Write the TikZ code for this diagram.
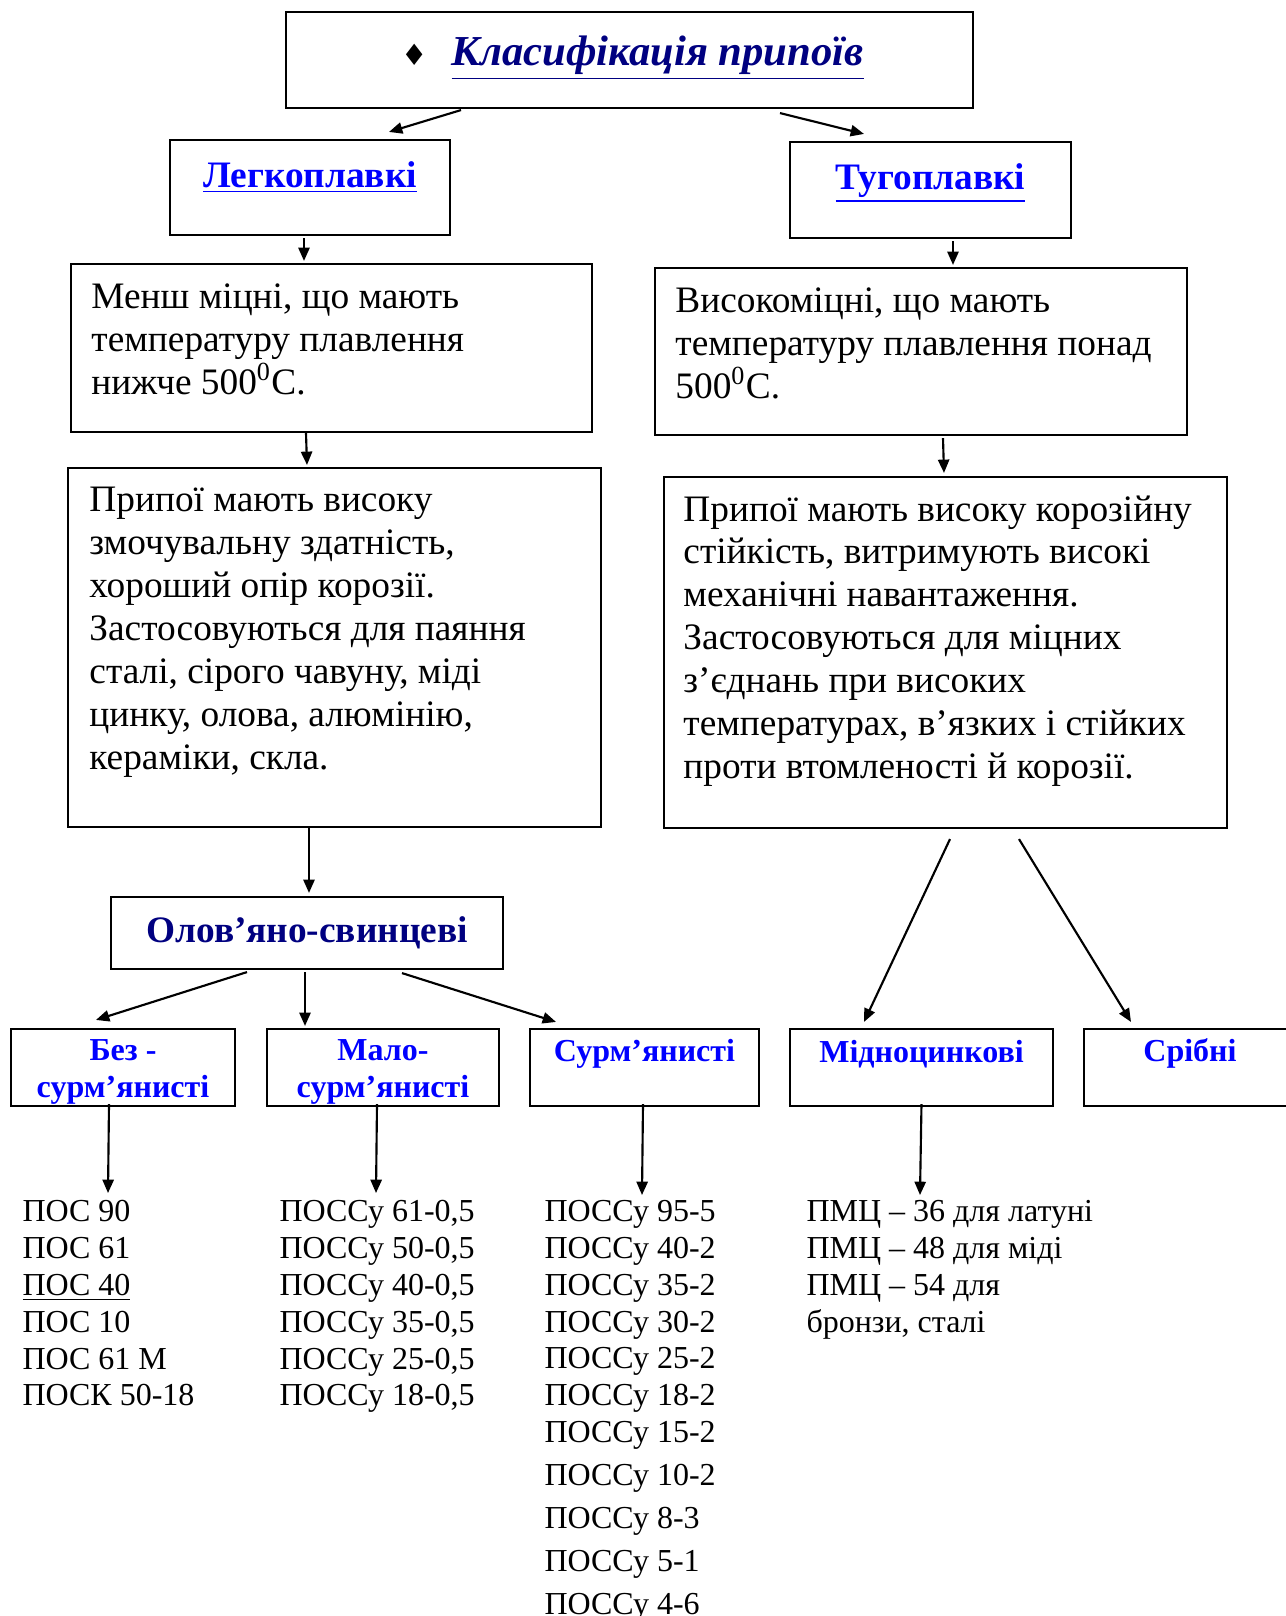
\documentclass[tikz,border=0pt]{standalone}
\usepackage{fontspec}
\setmainfont{Liberation Serif}
\newfontfamily\symbfont{DejaVu Sans}
\usetikzlibrary{arrows.meta,
                calc,
                fit}
\definecolor{darkblue}{RGB}{0,0,128}
\definecolor{brightblue}{RGB}{0,0,255}

\begin{document}
\begin{tikzpicture}%
        [x = 0.375pt, y = -0.375pt,
         box/.style = {draw, line width = 0.8pt, inner sep = 0pt},
         arr/.style = {-{Triangle[length=5pt,width=4.2pt]}, line width = 0.8pt},
         bigtext/.style = {anchor = north west, inner sep = 0pt, align = left,
                           font = \fontsize{14}{16.1}\selectfont},
         headtext/.style = {inner sep = 0pt, text = brightblue,
                            font = \fontsize{14}{16.1}\selectfont\bfseries},
         kindtext/.style = {inner sep = 0pt, align = center, text = brightblue,
                            font = \fontsize{12}{13.8}\selectfont\bfseries},
         listtext/.style = {anchor = north west, inner sep = 0pt, align = left,
                            font = \fontsize{12}{13.8}\selectfont}]
        \useasboundingbox (0,0) rectangle (1286,1616);

        % boxes
        \node [box, fit = {(286,12) (973,108)}] (title) {};
        \node [box, fit = {(170,140) (450,235)}] (light) {};
        \node [box, fit = {(790,142) (1071,238)}] (hard) {};
        \node [box, fit = {(71,264) (592,432)}] (lowtemp) {};
        \node [box, fit = {(655,268) (1187,435)}] (hightemp) {};
        \node [box, fit = {(68,468) (601,827)}] (lowprop) {};
        \node [box, fit = {(664,477) (1227,828)}] (highprop) {};
        \node [box, fit = {(111,897) (503,969)}] (tinlead) {};
        \node [box, fit = {(11,1029) (235,1106)}] (nosb) {};
        \node [box, fit = {(267,1029) (499,1106)}] (lowsb) {};
        \node [box, fit = {(530,1029) (759,1106)}] (sb) {};
        \node [box, fit = {(790,1029) (1053,1106)}] (cuzn) {};
        \node [box, fit = {(1084,1029) (1290,1106)}] (ag) {};

        % texts
        \node at ($(title.north)+(3,47)$) (titletext) [font = \fontsize{16}{18}\selectfont]
              {{\symbfont\fontsize{11}{13}\selectfont ♦}\hspace{9pt}\textcolor{darkblue}{\underline{\textbf{\textit{Класифікація припоїв}}}}};
        \node [headtext] at ($(light.north)+(0,38)$) (lighttext) {\underline{Легкоплавкі}};
        \node [headtext] at ($(hard.north)+(0,42)$) (hardtext) {\underline{Тугоплавкі}};
        \node [bigtext] at ($(lowtemp.north west)+(21,20)$) (lowtemptext)
              {Менш міцні, що мають\\ температуру плавлення\\ нижче 500\textsuperscript{0}С.};
        \node [bigtext] at ($(hightemp.north west)+(21,20)$) (hightemptext)
              {Високоміцні, що мають\\ температуру плавлення понад\\ 500\textsuperscript{0}С.};
        \node [bigtext] at ($(lowprop.north west)+(22,20)$) (lowproptext)
              {Припої мають високу\\ змочувальну здатність,\\ хороший опір корозії.\\
               Застосовуються для паяння\\ сталі, сірого чавуну, міді\\ цинку, олова, алюмінію,\\ кераміки, скла.};
        \node [bigtext] at ($(highprop.north west)+(20,19)$) (highproptext)
              {Припої мають високу корозійну\\ стійкість, витримують високі\\ механічні навантаження.\\
               Застосовуються для міцних\\ з’єднань при високих\\ температурах, в’язких і стійких\\ проти втомленості й корозії.};
        \node [inner sep = 0pt, text = darkblue, font = \fontsize{14}{16.1}\selectfont\bfseries]
              at (tinlead.center) (tinleadtext) {Олов’яно-свинцеві};
        \node [kindtext] at ($(nosb.north)+(0,44)$) (nosbtext) {Без -\\ сурм’янисті};
        \node [kindtext] at ($(lowsb.north)+(0,44)$) (lowsbtext) {Мало-\\ сурм’янисті};
        \node [kindtext] at ($(sb.north)+(0,26)$) (sbtext) {Сурм’янисті};
        \node [kindtext] at ($(cuzn.north)+(0,26)$) (cukntext) {Мідноцинкові};
        \node [kindtext] at ($(ag.north)+(3,26)$) (agtext) {Срібні};

        % lists
        \node [listtext] at (22,1200) (poslist)
              {ПОС 90\\ ПОС 61\\ \underline{ПОС 40}\\ ПОС 10\\ ПОС 61 М\\ ПОСК 50-18};
        \node [listtext] at (279,1200) (possulist)
              {ПОССу 61-0,5\\ ПОССу 50-0,5\\ ПОССу 40-0,5\\ ПОССу 35-0,5\\ ПОССу 25-0,5\\ ПОССу 18-0,5};
        \node [listtext] at (544,1200) (sblist)
              {ПОССу 95-5\\ ПОССу 40-2\\ ПОССу 35-2\\ ПОССу 30-2\\ ПОССу 25-2\\ ПОССу 18-2\\ ПОССу 15-2\\[2.3pt]
               ПОССу 10-2\\[2.3pt] ПОССу 8-3\\[2.3pt] ПОССу 5-1\\[2.3pt] ПОССу 4-6};
        \node [listtext] at (806,1200) (pmclist)
              {ПМЦ – 36 для латуні\\ ПМЦ – 48 для міді\\ ПМЦ – 54 для\\ бронзи, сталі};

        % connectors
        \draw [arr] ($(title.south)+(-168.5,1)$) -- ($(light.north)+(79,-7)$);
        \draw [arr] ($(title.south)+(150.5,4)$) -- ($(hard.north)+(-66.5,-7)$);
        \draw [arr] ($(light.south)+(-6,2)$) -- ($(lowtemp.north)+(-27.5,-2)$);
        \draw [arr] ($(hard.south)+(22.5,2)$) -- ($(hightemp.north)+(32,-2)$);
        \draw [arr] ($(lowtemp.south)+(-25.5,0)$) -- ($(lowprop.north)+(-27.5,-2)$);
        \draw [arr] ($(hightemp.south)+(22,2)$) -- ($(highprop.north)+(-1.5,-3)$);
        \draw [arr] ($(lowprop.south)+(-25.5,0)$) -- ($(tinlead.north)+(2,-3)$);
        \draw [arr] ($(tinlead.south)+(-60,2)$) -- ($(nosb.north)+(-27,-8)$);
        \draw [arr] ($(tinlead.south)+(-2,2)$) -- ($(lowsb.north)+(-78,-2)$);
        \draw [arr] ($(tinlead.south)+(95,3)$) -- ($(sb.north)+(-88.5,-6)$);
        \draw [arr] ($(highprop.south)+(4.5,10)$) -- ($(cuzn.north)+(-57.5,-6)$);
        \draw [arr] ($(highprop.south)+(73.5,10)$) -- ($(ag.north)+(-56,-6)$);
        \draw [arr] ($(nosb.south)+(-14,-3)$) -- ($(poslist.north west)+(86,-7)$);
        \draw [arr] ($(lowsb.south)+(-6,-3)$) -- ($(possulist.north west)+(97,-7)$);
        \draw [arr] ($(sb.south)+(-1.5,-3)$) -- ($(sblist.north west)+(98,-5)$);
        \draw [arr] ($(cuzn.south)+(0,-3)$) -- ($(pmclist.north west)+(114,-5)$);
\end{tikzpicture}
\end{document}
